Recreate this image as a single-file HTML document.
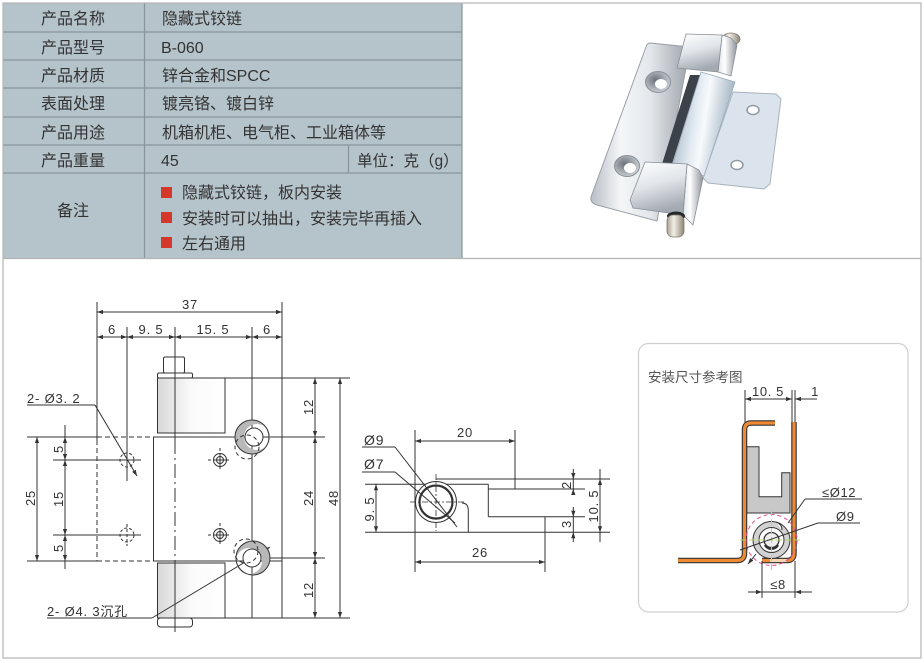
<!DOCTYPE html>
<html><head><meta charset="utf-8"><style>
html,body{margin:0;padding:0;background:#fff;width:924px;height:663px;overflow:hidden}
svg{display:block}
text{font-family:"Liberation Sans","Noto Sans CJK SC",sans-serif}
</style></head><body>
<svg width="924" height="663" viewBox="0 0 924 663" xmlns="http://www.w3.org/2000/svg">
<defs>
 <marker id="ar" viewBox="0 0 10 10" refX="10" refY="5" markerWidth="7" markerHeight="6" markerUnits="userSpaceOnUse" orient="auto-start-reverse"><path d="M0,1.5 L10,5 L0,8.5z" fill="#333"/></marker>
 <linearGradient id="chr2" x1="0" y1="0" x2="1" y2="0"><stop offset="0" stop-color="#b9bec6"/><stop offset="0.3" stop-color="#f4f6f8"/><stop offset="0.6" stop-color="#e3e7eb"/><stop offset="1" stop-color="#9ba1a9"/></linearGradient>
 <linearGradient id="brl" x1="0" y1="0" x2="1" y2="0.25"><stop offset="0" stop-color="#8fa3b6"/><stop offset="0.45" stop-color="#e3ebf2"/><stop offset="0.6" stop-color="#f7fafc"/><stop offset="1" stop-color="#9fb0c0"/></linearGradient>
 <linearGradient id="blk" x1="0" y1="0" x2="0.3" y2="1"><stop offset="0" stop-color="#ffffff"/><stop offset="0.5" stop-color="#e2e6ea"/><stop offset="1" stop-color="#a4aab2"/></linearGradient>
 <linearGradient id="cyl" x1="0" y1="0" x2="1" y2="0"><stop offset="0" stop-color="#dfe3e8"/><stop offset="0.35" stop-color="#ffffff"/><stop offset="1" stop-color="#8e949c"/></linearGradient>
 <linearGradient id="pin" x1="0" y1="0" x2="1" y2="0"><stop offset="0" stop-color="#a9a294"/><stop offset="0.4" stop-color="#f2eee6"/><stop offset="1" stop-color="#8d8677"/></linearGradient>
 <linearGradient id="knk" x1="0" y1="0" x2="1" y2="0"><stop offset="0" stop-color="#d8d8d8"/><stop offset="0.5" stop-color="#fafafa"/><stop offset="1" stop-color="#ffffff"/></linearGradient>
 <radialGradient id="hole" cx="0.4" cy="0.4" r="0.6"><stop offset="0" stop-color="#6d737b"/><stop offset="1" stop-color="#c8ccd2"/></radialGradient>
</defs>
<rect x="0" y="0" width="924" height="663" fill="#fff"/>

<!-- TABLE -->
<rect x="3" y="3" width="459" height="255" fill="#b5c3cb"/>
<g stroke="#8a959b" stroke-width="1.2">
 <line x1="3" y1="32" x2="462" y2="32"/>
 <line x1="3" y1="60" x2="462" y2="60"/>
 <line x1="3" y1="88" x2="462" y2="88"/>
 <line x1="3" y1="117" x2="462" y2="117"/>
 <line x1="3" y1="145" x2="462" y2="145"/>
 <line x1="3" y1="173" x2="462" y2="173"/>
 <line x1="144.5" y1="3" x2="144.5" y2="258"/>
 <line x1="348.5" y1="145" x2="348.5" y2="173"/>
 <line x1="462" y1="3" x2="462" y2="258"/>
</g>
<g stroke="#b4b4b4" stroke-width="1.2" fill="none">
 <rect x="3" y="3" width="918" height="655"/>
 <line x1="3" y1="258.5" x2="921" y2="258.5"/>
</g>
<g font-size="16" fill="#333">
 <text x="73" y="24" text-anchor="middle">产品名称</text>
 <text x="73" y="53" text-anchor="middle">产品型号</text>
 <text x="73" y="81" text-anchor="middle">产品材质</text>
 <text x="73" y="109" text-anchor="middle">表面处理</text>
 <text x="73" y="138" text-anchor="middle">产品用途</text>
 <text x="73" y="166" text-anchor="middle">产品重量</text>
 <text x="73" y="216" text-anchor="middle">备注</text>
 <text x="162" y="24">隐藏式铰链</text>
 <text x="161" y="53">B-060</text>
 <text x="162" y="81">锌合金和SPCC</text>
 <text x="162" y="109">镀亮铬、镀白锌</text>
 <text x="162" y="138">机箱机柜、电气柜、工业箱体等</text>
 <text x="161" y="166">45</text>
 <text x="357" y="166" font-size="15.5">单位：克（g）</text>
 <text x="182" y="198">隐藏式铰链，板内安装</text>
 <text x="182" y="224">安装时可以抽出，安装完毕再插入</text>
 <text x="182" y="249">左右通用</text>
</g>
<g fill="#d5382b">
 <rect x="161" y="187" width="11" height="11"/>
 <rect x="161" y="212" width="11" height="11"/>
 <rect x="161" y="237" width="11" height="11"/>
</g>

<!-- PHOTO HINGE -->
<g>
 <polygon points="733,92 776,94 781,99 770,184 764,189 708,183 703,178" fill="#dbe4ec" stroke="#a9b3bd" stroke-width="1"/>
 <ellipse cx="753" cy="110" rx="6" ry="4.5" fill="#fff" stroke="#8f99a3" stroke-width="1.5"/>
 <ellipse cx="737" cy="165" rx="6" ry="4.5" fill="#fff" stroke="#8f99a3" stroke-width="1.5"/>
 <path d="M650,43 L690,47 L657,221 L597,205 Q590,203 591,197 L646,47 Q647,43 650,43z" fill="url(#chr2)" stroke="#9aa0a8" stroke-width="1"/>
 <ellipse cx="658" cy="82" rx="12.5" ry="10.5" fill="url(#hole)" stroke="#8a9098"/>
 <ellipse cx="661" cy="84" rx="6" ry="5" fill="#fff"/>
 <ellipse cx="627" cy="166" rx="12.5" ry="10.5" fill="url(#hole)" stroke="#8a9098"/>
 <ellipse cx="630" cy="168" rx="6" ry="5" fill="#fff"/>
 <polygon points="690,75 700,75 672,164 662,164" fill="#3c424a"/>
 <polygon points="701,72 735,82 704,176 672,166" fill="url(#brl)" stroke="#9aaabb" stroke-width="0.8"/>
 <!-- top pin -->
 <ellipse cx="731" cy="39" rx="9" ry="6" fill="url(#pin)" stroke="#7d776b" stroke-width="0.8"/>
 <!-- top block -->
 <polygon points="722,35 731,38 737,45 731,76 718,72" fill="url(#cyl)" stroke="#8a9098" stroke-width="0.8"/>
 <polygon points="686,34 722,35 718,72 677,68" fill="url(#blk)" stroke="#8a9098" stroke-width="0.8"/>
 <!-- bottom block -->
 <polygon points="687,164 699,170 703,178 693,225 683,215" fill="url(#cyl)" stroke="#8a9098" stroke-width="0.8"/>
 <polygon points="645,162 687,164 683,215 633,208 630,200" fill="url(#blk)" stroke="#8a9098" stroke-width="0.8"/>
 <ellipse cx="676" cy="216" rx="9" ry="4.5" fill="#24282d"/>
 <rect x="667" y="215" width="17" height="22" rx="6" fill="url(#pin)" stroke="#7d776b" stroke-width="0.8"/>
</g>

<!-- LEFT DRAWING -->
<g stroke="#333" stroke-width="1" fill="none">
 <rect x="163.5" y="357" width="21" height="16" rx="1.5" fill="#fff"/>
 <rect x="157.5" y="373" width="35" height="5" rx="1.5" fill="#fff"/>
 <rect x="157.5" y="378" width="67.5" height="55" fill="url(#knk)"/>
 <rect x="153.5" y="437" width="128.5" height="124" fill="#fff"/>
 <rect x="157.5" y="563" width="67.5" height="55" fill="url(#knk)"/>
 <rect x="157.5" y="618" width="35" height="9" rx="3" fill="#fff"/>
 <line x1="97" y1="302" x2="97" y2="440"/>
 <line x1="97" y1="440" x2="97" y2="561" stroke-dasharray="5,3"/>
 <line x1="282" y1="302" x2="282" y2="618"/>
 <line x1="127" y1="327" x2="127" y2="481"/>
 <line x1="175" y1="327" x2="175" y2="440"/>
 <line x1="175" y1="440" x2="175" y2="560" stroke-dasharray="14,4,2,4"/>
 <line x1="175" y1="560" x2="175" y2="632"/>
 <line x1="252" y1="327" x2="252" y2="618"/>
 <line x1="225" y1="378" x2="282" y2="378"/>
 <line x1="282" y1="378" x2="350" y2="378"/>
 <line x1="282" y1="618" x2="350" y2="618"/>
 <line x1="225" y1="618" x2="282" y2="618"/>
 <line x1="27" y1="437" x2="97" y2="437"/>
 <line x1="97" y1="437" x2="153" y2="437" stroke-dasharray="5,3"/>
 <line x1="27" y1="561" x2="97" y2="561"/>
 <line x1="97" y1="561" x2="153" y2="561" stroke-dasharray="5,3"/>
 <line x1="268" y1="437" x2="325" y2="437"/>
 <line x1="268" y1="558" x2="325" y2="558"/>
 <line x1="53" y1="460" x2="141" y2="460"/>
 <line x1="53" y1="535" x2="141" y2="535"/>
 <line x1="97" y1="312" x2="282" y2="312" marker-start="url(#ar)" marker-end="url(#ar)"/>
 <line x1="97" y1="337" x2="127" y2="337" marker-start="url(#ar)" marker-end="url(#ar)"/>
 <line x1="127" y1="337" x2="175" y2="337" marker-start="url(#ar)" marker-end="url(#ar)"/>
 <line x1="175" y1="337" x2="252" y2="337" marker-start="url(#ar)" marker-end="url(#ar)"/>
 <line x1="252" y1="337" x2="282" y2="337" marker-start="url(#ar)" marker-end="url(#ar)"/>
 <line x1="37" y1="437" x2="37" y2="561" marker-start="url(#ar)" marker-end="url(#ar)"/>
 <line x1="65" y1="425" x2="65" y2="437"/>
 <line x1="65" y1="437" x2="65" y2="460" marker-start="url(#ar)" marker-end="url(#ar)"/>
 <line x1="65" y1="460" x2="65" y2="535" marker-start="url(#ar)" marker-end="url(#ar)"/>
 <line x1="65" y1="535" x2="65" y2="561" marker-start="url(#ar)" marker-end="url(#ar)"/>
 <line x1="65" y1="561" x2="65" y2="569"/>
 <line x1="315" y1="378" x2="315" y2="437" marker-start="url(#ar)" marker-end="url(#ar)"/>
 <line x1="315" y1="437" x2="315" y2="558" marker-start="url(#ar)" marker-end="url(#ar)"/>
 <line x1="315" y1="558" x2="315" y2="618" marker-start="url(#ar)" marker-end="url(#ar)"/>
 <line x1="340" y1="378" x2="340" y2="618" marker-start="url(#ar)" marker-end="url(#ar)"/>
 <line x1="27" y1="405" x2="95" y2="405"/>
 <line x1="95" y1="405" x2="137" y2="476" marker-end="url(#ar)"/>
 <line x1="47" y1="618" x2="152" y2="618"/>
 <line x1="152" y1="618" x2="270" y2="547" marker-end="url(#ar)"/>
 <path d="M269,437a17,17 0 1,0 -34,0a17,17 0 1,0 34,0z M270,437a13,13 0 1,0 -26,0a13,13 0 1,0 26,0z" fill="#b8b8b8" fill-rule="evenodd" stroke="none"/>
 <circle cx="252" cy="437" r="17"/>
 <circle cx="254" cy="437" r="9" fill="#fff"/>
 <circle cx="247" cy="447" r="12" stroke-dasharray="4,3"/>
 <path d="M270,558a17,17 0 1,0 -34,0a17,17 0 1,0 34,0z M262,561a13,13 0 1,0 -26,0a13,13 0 1,0 26,0z" fill="#b8b8b8" fill-rule="evenodd" stroke="none"/>
 <circle cx="253" cy="558" r="17"/>
 <circle cx="252" cy="558" r="9" fill="#fff"/>
 <circle cx="246" cy="551" r="12" stroke-dasharray="4,3"/>
 <circle cx="220" cy="460" r="6.5"/><circle cx="220" cy="460" r="3.5"/>
 <line x1="214" y1="460" x2="226" y2="460"/><line x1="220" y1="454" x2="220" y2="466"/>
 <line x1="208" y1="460" x2="232" y2="460" stroke-dasharray="3,3"/><line x1="220" y1="448" x2="220" y2="472" stroke-dasharray="3,3"/>
 <circle cx="220" cy="535" r="6.5"/><circle cx="220" cy="535" r="3.5"/>
 <line x1="214" y1="535" x2="226" y2="535"/><line x1="220" y1="529" x2="220" y2="541"/>
 <line x1="208" y1="535" x2="232" y2="535" stroke-dasharray="3,3"/><line x1="220" y1="523" x2="220" y2="547" stroke-dasharray="3,3"/>
 <circle cx="127" cy="460" r="7" stroke-dasharray="3,2"/>
 <line x1="116" y1="460" x2="141" y2="460" stroke-dasharray="3,2"/>
 <circle cx="127" cy="535" r="7" stroke-dasharray="3,2"/>
 <line x1="116" y1="535" x2="141" y2="535" stroke-dasharray="3,2"/>
 <line x1="127" y1="524" x2="127" y2="546" stroke-dasharray="3,2"/>
</g>
<g font-size="13" fill="#333" letter-spacing="0.8">
 <text x="190" y="309" text-anchor="middle">37</text>
 <text x="112" y="334" text-anchor="middle">6</text>
 <text x="151" y="334" text-anchor="middle">9. 5</text>
 <text x="213" y="334" text-anchor="middle">15. 5</text>
 <text x="267" y="334" text-anchor="middle">6</text>
 <text transform="translate(35,498) rotate(-90)" text-anchor="middle">25</text>
 <text transform="translate(63,449) rotate(-90)" text-anchor="middle">5</text>
 <text transform="translate(63,499) rotate(-90)" text-anchor="middle">15</text>
 <text transform="translate(63,548) rotate(-90)" text-anchor="middle">5</text>
 <text transform="translate(313,407) rotate(-90)" text-anchor="middle">12</text>
 <text transform="translate(313,498) rotate(-90)" text-anchor="middle">24</text>
 <text transform="translate(313,590) rotate(-90)" text-anchor="middle">12</text>
 <text transform="translate(338,498) rotate(-90)" text-anchor="middle">48</text>
 <text x="27" y="403">2- Ø3. 2</text>
 <text x="47" y="616">2- Ø4. 3沉孔</text>
</g>

<!-- MIDDLE DRAWING -->
<g stroke="#333" stroke-width="1" fill="none">
 <line x1="415" y1="430" x2="415" y2="572"/>
 <line x1="515" y1="430" x2="515" y2="489"/>
 <line x1="415" y1="441" x2="515" y2="441" marker-start="url(#ar)" marker-end="url(#ar)"/>
 <line x1="415" y1="562" x2="545" y2="562" marker-start="url(#ar)" marker-end="url(#ar)"/>
 <line x1="436" y1="479" x2="610" y2="479"/>
 <line x1="488.3" y1="489" x2="585" y2="489"/>
 <line x1="365" y1="484.3" x2="488.3" y2="484.3"/>
 <line x1="488.3" y1="484.3" x2="488.3" y2="516.7"/>
 <line x1="488.3" y1="516.7" x2="585" y2="516.7"/>
 <line x1="545" y1="516.7" x2="545" y2="572"/>
 <line x1="365" y1="532.3" x2="610" y2="532.3"/>
 <path d="M468.3,532.3 L468.3,510 Q468,503 462,503"/>
 <circle cx="436" cy="502" r="20.5" fill="#fff"/>
 <circle cx="436" cy="502" r="16.5" stroke-width="2.2"/>
 <line x1="410" y1="502" x2="465" y2="502" stroke-dasharray="6,2,2,2" stroke-width="0.8"/>
 <line x1="436" y1="474" x2="436" y2="531" stroke-dasharray="6,2,2,2" stroke-width="0.8"/>
 <line x1="376" y1="484.3" x2="376" y2="532.3" marker-start="url(#ar)" marker-end="url(#ar)"/>
 <line x1="573.3" y1="469" x2="573.3" y2="479" marker-end="url(#ar)"/>
 <line x1="573.3" y1="479" x2="573.3" y2="489"/>
 <line x1="573.3" y1="495" x2="573.3" y2="489" marker-end="url(#ar)"/>
 <line x1="573.3" y1="507" x2="573.3" y2="516.7" marker-end="url(#ar)"/>
 <line x1="573.3" y1="516.7" x2="573.3" y2="532.3"/>
 <line x1="573.3" y1="542" x2="573.3" y2="532.3" marker-end="url(#ar)"/>
 <line x1="600" y1="469" x2="600" y2="542"/>
 <line x1="600" y1="479" x2="600" y2="532.3" marker-start="url(#ar)" marker-end="url(#ar)"/>
 <line x1="362" y1="447" x2="395" y2="447"/>
 <line x1="395" y1="447" x2="457" y2="527"/>
 <line x1="362" y1="472" x2="395" y2="472"/>
 <line x1="395" y1="472" x2="455" y2="523"/>
</g>
<g font-size="13" fill="#333" letter-spacing="0.8">
 <text x="465" y="437" text-anchor="middle">20</text>
 <text x="480" y="557" text-anchor="middle">26</text>
 <text x="364" y="445" font-size="14">Ø9</text>
 <text x="364" y="469" font-size="14">Ø7</text>
 <text transform="translate(374,509) rotate(-90)" text-anchor="middle">9. 5</text>
 <text transform="translate(571,485) rotate(-90)" text-anchor="middle">2</text>
 <text transform="translate(571,524) rotate(-90)" text-anchor="middle">3</text>
 <text transform="translate(598,506) rotate(-90)" text-anchor="middle">10. 5</text>
</g>

<!-- RIGHT PANEL -->
<rect x="638.5" y="343.5" width="269.5" height="268.5" rx="10" fill="#fff" stroke="#cfcfcf" stroke-width="1.2"/>
<text x="648" y="382" font-size="13.5" fill="#555">安装尺寸参考图</text>
<g stroke="#333" stroke-width="1" fill="none">
 <polygon points="746.7,446.7 759,446.7 759,496.7 781.7,496.7 781.7,472.7 790,472.7 790,513 746.7,513" fill="#c8c8c8"/>
 <line x1="745" y1="390" x2="745" y2="425"/>
 <line x1="792" y1="390" x2="792" y2="423"/>
 <line x1="795" y1="390" x2="795" y2="423"/>
 <line x1="745" y1="399" x2="792" y2="399" marker-start="url(#ar)" marker-end="url(#ar)"/>
 <line x1="817" y1="399" x2="795" y2="399" marker-end="url(#ar)"/>
 <path d="M775,423 L751,423 Q744.5,423 744.5,430 L744.5,553 Q744.5,560.5 737,560.5 L678,560.5" stroke="#333" stroke-width="5.5"/>
 <path d="M775,423 L751,423 Q744.5,423 744.5,430 L744.5,553 Q744.5,560.5 737,560.5 L678,560.5" stroke="#ee8a33" stroke-width="3.2"/>
 <path d="M794,422 L794,553 Q794,560.5 787,560.5 L762,560.5" stroke="#333" stroke-width="5.5"/>
 <path d="M794,422 L794,553 Q794,560.5 787,560.5 L762,560.5" stroke="#ee8a33" stroke-width="3.2"/>
 <line x1="770" y1="560.5" x2="787" y2="560.5" stroke="#f6d6b4" stroke-width="3"/>
 <circle cx="771.5" cy="540" r="25.5" stroke="#e0508a" stroke-dasharray="4,3" stroke-width="1"/>
 <circle cx="771.5" cy="540" r="18.5" fill="#d2d2d2"/>
 <circle cx="771.5" cy="540" r="12.5" fill="#fff"/>
 <path d="M776,522 q6,2 6,8" stroke="#333" fill="#fff"/>
 <circle cx="771.5" cy="540" r="7.5" fill="#eee" stroke-width="1.3"/>
 <path d="M765,545 a7.5,7.5 0 0,0 13,0" stroke-width="2.4"/>
 <line x1="740" y1="540" x2="802" y2="540" stroke="#b6d86a" stroke-dasharray="6,3"/>
 <line x1="771.5" y1="510" x2="771.5" y2="570" stroke="#b6d86a" stroke-dasharray="6,3"/>
 <line x1="805" y1="499" x2="862" y2="499"/>
 <line x1="805" y1="499" x2="788" y2="523"/>
 <line x1="818" y1="523" x2="860" y2="523"/>
 <line x1="818" y1="523" x2="740" y2="550"/>
 <line x1="756" y1="554" x2="748" y2="564" marker-end="url(#ar)"/>
 <line x1="762" y1="561" x2="762" y2="598"/>
 <line x1="795" y1="561" x2="795" y2="598"/>
 <line x1="748" y1="592" x2="762" y2="592" marker-end="url(#ar)"/>
 <line x1="762" y1="592" x2="795" y2="592"/>
 <line x1="812" y1="592" x2="795" y2="592" marker-end="url(#ar)"/>
</g>
<g font-size="13" fill="#333" letter-spacing="0.6">
 <text x="768" y="396" text-anchor="middle">10. 5</text>
 <text x="815" y="396" text-anchor="middle">1</text>
 <text x="822" y="497">≤Ø12</text>
 <text x="836" y="521">Ø9</text>
 <text x="778" y="589" text-anchor="middle">≤8</text>
</g>
</svg>
</body></html>
